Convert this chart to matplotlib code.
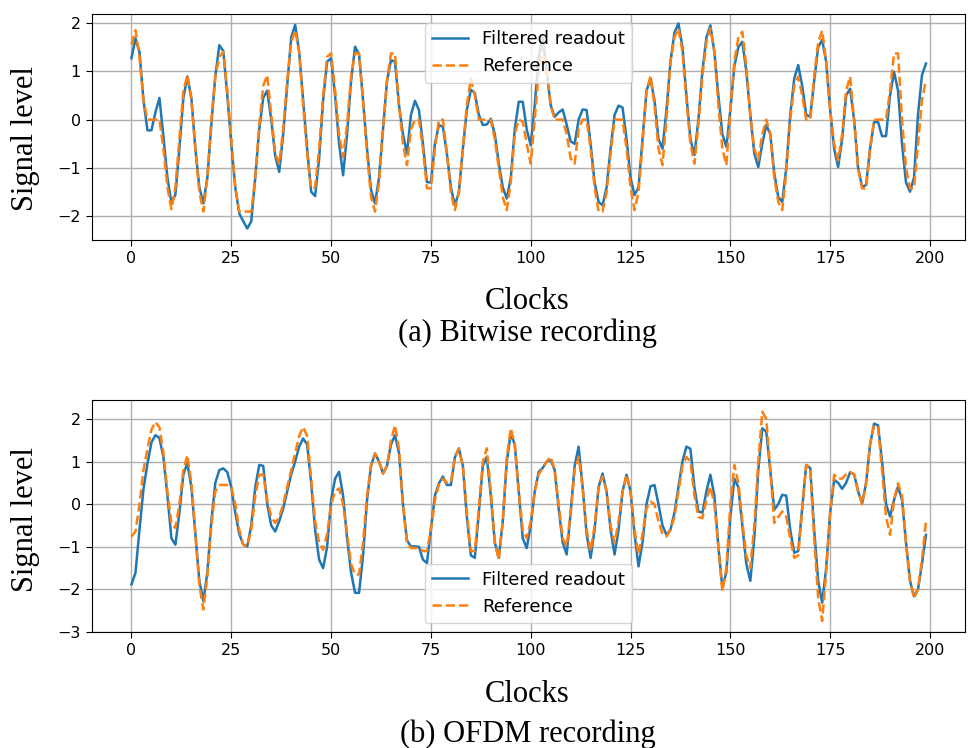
import matplotlib
matplotlib.use('Agg')
import matplotlib.pyplot as plt
import numpy as np

clocks = np.arange(200)

# (a) bitwise recording
bit_readout = [
    1.27, 1.68, 1.40, 0.40, -0.22, -0.22, 0.15, 0.45, -0.35, -1.20,
    -1.72, -1.55, -0.60, 0.45, 0.89, 0.45, -0.60, -1.40, -1.73, -1.20,
    -0.10, 0.90, 1.54, 1.42, 0.50, -0.50, -1.40, -1.94, -2.10, -2.25,
    -2.10, -1.20, -0.20, 0.45, 0.60, 0.00, -0.75, -1.08, -0.30, 0.70,
    1.70, 1.96, 1.40, 0.40, -0.60, -1.49, -1.58, -0.80, 0.40, 1.20,
    1.27, 0.50, -0.50, -1.15, -0.30, 0.80, 1.51, 1.35, 0.40, -0.60,
    -1.45, -1.73, -1.20, -0.20, 0.80, 1.23, 1.20, 0.30, -0.30, -0.70,
    0.10, 0.39, 0.20, -0.50, -1.29, -1.30, -0.50, -0.11, -0.15, -0.70,
    -1.40, -1.77, -1.50, -0.60, 0.20, 0.62, 0.55, 0.10, -0.11, -0.10,
    0.02, -0.30, -0.90, -1.40, -1.63, -1.20, -0.20, 0.37, 0.37, -0.20,
    -0.53, 0.30, 1.30, 1.70, 1.00, 0.30, 0.06, 0.15, 0.21, -0.10,
    -0.45, -0.50, 0.00, 0.21, 0.20, -0.50, -1.30, -1.70, -1.77, -1.40,
    -0.60, 0.10, 0.29, 0.25, -0.40, -1.20, -1.56, -1.40, -0.40, 0.60,
    0.85, 0.40, -0.40, -0.60, 0.20, 1.20, 1.80, 1.99, 1.50, 0.50,
    -0.40, -0.73, 0.00, 1.00, 1.70, 1.95, 1.40, 0.50, -0.30, -0.56,
    0.20, 1.10, 1.50, 1.61, 1.00, 0.10, -0.70, -0.98, -0.50, -0.11,
    -0.30, -1.10, -1.60, -1.70, -1.00, 0.10, 0.85, 1.13, 0.70, 0.10,
    0.06, 0.80, 1.50, 1.65, 1.20, 0.20, -0.60, -0.98, -0.40, 0.50,
    0.64, 0.00, -1.00, -1.39, -1.35, -0.60, -0.05, -0.05, -0.34, -0.34,
    0.50, 0.99, 0.60, -0.50, -1.30, -1.49, -1.20, 0.10, 0.92, 1.16,
]
bit_reference = [
    1.55, 1.85, 1.30, 0.40, 0.00, 0.00, 0.00, 0.00, -0.60, -1.40,
    -1.85, -1.40, -0.40, 0.60, 0.92, 0.40, -0.60, -1.50, -1.90, -1.20,
    0.00, 0.90, 1.30, 1.40, 0.60, -0.40, -1.40, -1.90, -1.90, -1.90,
    -1.90, -1.20, -0.10, 0.70, 0.92, 0.10, -0.70, -0.91, -0.20, 0.80,
    1.60, 1.85, 1.40, 0.30, -0.70, -1.42, -1.40, -0.60, 0.50, 1.30,
    1.37, 0.60, -0.30, -0.77, -0.10, 0.90, 1.37, 1.37, 0.40, -0.70,
    -1.60, -1.90, -1.30, -0.20, 0.80, 1.37, 1.37, 0.30, -0.50, -0.94,
    -0.20, 0.00, 0.00, -0.60, -1.42, -1.42, -0.60, 0.00, 0.00, -0.70,
    -1.50, -1.87, -1.50, -0.60, 0.30, 0.85, 0.50, 0.00, 0.00, 0.00,
    0.00, -0.40, -1.00, -1.60, -1.87, -1.30, -0.30, 0.00, -0.04, -0.50,
    -0.91, 0.00, 1.00, 1.50, 1.00, 0.30, 0.00, 0.00, 0.00, -0.30,
    -0.80, -0.91, -0.20, 0.00, 0.00, -0.60, -1.40, -1.90, -1.90, -1.50,
    -0.70, 0.00, 0.00, 0.00, -0.60, -1.40, -1.87, -1.50, -0.50, 0.60,
    0.90, 0.30, -0.60, -0.94, 0.00, 1.20, 1.70, 1.89, 1.40, 0.40,
    -0.50, -0.91, -0.10, 0.90, 1.60, 1.89, 1.40, 0.30, -0.60, -0.94,
    0.20, 1.20, 1.70, 1.82, 1.10, 0.10, -0.60, -0.84, -0.30, 0.00,
    -0.30, -1.20, -1.70, -1.87, -1.10, 0.00, 0.70, 0.89, 0.50, 0.00,
    0.00, 0.90, 1.60, 1.84, 1.20, 0.20, -0.50, -0.84, -0.30, 0.60,
    0.89, 0.00, -1.00, -1.42, -1.42, -0.60, 0.00, 0.00, 0.00, 0.00,
    0.60, 1.37, 1.37, 0.00, -1.00, -1.42, -1.42, -0.50, 0.40, 0.82,
]

# (b) OFDM recording
ofdm_readout = [
    -1.88, -1.61, -0.60, 0.35, 0.95, 1.45, 1.62, 1.55, 1.10, 0.20,
    -0.80, -0.95, -0.20, 0.70, 0.96, 0.40, -0.70, -1.80, -2.27, -1.60,
    -0.40, 0.50, 0.80, 0.84, 0.75, 0.40, -0.20, -0.70, -0.95, -0.99,
    -0.50, 0.40, 0.92, 0.90, 0.00, -0.50, -0.64, -0.40, -0.10, 0.30,
    0.70, 1.00, 1.35, 1.54, 1.40, 0.50, -0.60, -1.30, -1.50, -1.00,
    0.10, 0.60, 0.76, 0.20, -0.80, -1.60, -2.08, -2.08, -1.20, 0.10,
    0.90, 1.19, 1.00, 0.72, 0.90, 1.40, 1.62, 1.20, 0.00, -0.85,
    -0.99, -0.99, -1.00, -1.30, -1.38, -0.60, 0.20, 0.49, 0.65, 0.45,
    0.45, 1.10, 1.31, 0.90, -0.30, -1.20, -1.26, -0.20, 0.90, 1.11,
    0.20, -0.90, -1.26, -0.40, 1.00, 1.66, 1.40, 0.30, -0.80, -1.03,
    -0.50, 0.30, 0.76, 0.85, 1.00, 1.04, 0.80, -0.10, -0.90, -1.18,
    -0.20, 0.90, 1.35, 0.40, -0.70, -1.26, -0.60, 0.40, 0.72, 0.30,
    -0.60, -1.18, -0.60, 0.30, 0.69, 0.30, -0.70, -1.46, -0.90, 0.00,
    0.42, 0.45, 0.00, -0.50, -0.72, -0.60, -0.20, 0.40, 1.00, 1.35,
    1.30, 0.40, -0.17, -0.20, 0.30, 0.69, 0.20, -1.00, -1.96, -1.60,
    -0.30, 0.60, 0.40, -0.50, -1.40, -1.80, -0.80, 0.80, 1.78, 1.70,
    0.80, -0.13, 0.00, 0.22, 0.20, -0.60, -1.14, -1.10, -0.10, 0.92,
    0.85, -0.60, -1.80, -2.31, -1.50, -0.20, 0.57, 0.50, 0.36, 0.50,
    0.75, 0.70, 0.30, 0.02, 0.50, 1.40, 1.89, 1.85, 1.00, 0.00,
    -0.29, 0.10, 0.41, 0.10, -0.90, -1.80, -2.16, -2.00, -1.40, -0.72,
]
ofdm_reference = [
    -0.76, -0.64, 0.00, 0.80, 1.30, 1.75, 1.93, 1.80, 1.20, 0.30,
    -0.45, -0.56, 0.00, 0.80, 1.15, 0.50, -0.70, -1.90, -2.47, -1.70,
    -0.50, 0.30, 0.45, 0.45, 0.45, 0.40, 0.00, -0.60, -0.95, -0.99,
    -0.60, 0.20, 0.69, 0.69, 0.10, -0.30, -0.44, -0.30, 0.00, 0.40,
    0.80, 1.20, 1.60, 1.81, 1.60, 0.60, -0.40, -0.90, -1.07, -0.70,
    0.00, 0.30, 0.37, 0.00, -0.70, -1.40, -1.65, -1.65, -0.90, 0.20,
    0.90, 1.19, 1.00, 0.72, 0.90, 1.50, 1.85, 1.30, 0.00, -0.90,
    -1.03, -1.03, -1.03, -1.10, -1.10, -0.60, 0.10, 0.45, 0.60, 0.50,
    0.50, 1.10, 1.30, 0.90, -0.20, -1.10, -1.10, -0.10, 1.00, 1.31,
    0.30, -0.90, -1.30, -0.40, 1.10, 1.78, 1.40, 0.30, -0.60, -0.80,
    -0.40, 0.30, 0.70, 0.85, 1.00, 1.11, 0.80, 0.00, -0.80, -0.99,
    -0.20, 0.80, 1.11, 0.40, -0.60, -1.10, -0.50, 0.40, 0.65, 0.30,
    -0.50, -0.91, -0.40, 0.30, 0.69, 0.30, -0.60, -1.18, -0.70, -0.10,
    0.06, 0.00, -0.40, -0.70, -0.76, -0.60, -0.30, 0.30, 0.90, 1.11,
    1.00, 0.20, -0.30, -0.33, 0.10, 0.41, 0.00, -1.00, -2.04, -1.50,
    0.00, 0.92, 0.50, -0.40, -1.20, -1.50, -0.50, 1.00, 2.17, 2.00,
    0.80, -0.44, -0.30, -0.17, -0.30, -0.80, -1.26, -1.20, -0.10, 0.92,
    0.85, -0.80, -2.20, -2.74, -1.60, -0.20, 0.69, 0.60, 0.60, 0.70,
    0.75, 0.70, 0.30, 0.00, 0.50, 1.40, 1.85, 1.80, 0.80, -0.30,
    -0.72, 0.10, 0.49, 0.20, -0.90, -1.80, -2.20, -2.00, -1.30, -0.40,
]

serif = ['Liberation Serif', 'DejaVu Serif']

fig = plt.figure(figsize=(9.68, 7.48), dpi=100)
ax1 = fig.add_axes([0.095, 0.679, 0.902, 0.302])
ax2 = fig.add_axes([0.095, 0.155, 0.902, 0.310])

panels = [
    (ax1, bit_readout, bit_reference, 'upper center'),
    (ax2, ofdm_readout, ofdm_reference, 'lower center'),
]
for ax, readout, ref, loc in panels:
    ax.plot(clocks, readout, color='tab:blue', lw=1.8, label='Filtered readout')
    ax.plot(clocks, ref, color='tab:orange', lw=1.8, ls='--', label='Reference')
    ax.grid(True, lw=1.0)
    ax.set_xticks([0, 25, 50, 75, 100, 125, 150, 175, 200])
    ax.set_xlim(-9.9, 208.8)
    ax.tick_params(labelsize=11.5, length=4.5)
    ax.legend(loc=loc, fontsize=13)

ax1.set_ylim(-2.49, 2.18)
ax2.set_ylim(-3.0, 2.44)
ax2.set_yticks([-3, -2, -1, 0, 1, 2])

# axis titles and captions in serif, as in the paper figure
fig.text(0.026, 0.815, 'Signal level', rotation=90, ha='center', va='center',
         fontsize=22, family=serif)
fig.text(0.026, 0.305, 'Signal level', rotation=90, ha='center', va='center',
         fontsize=22, family=serif)
fig.text(0.545, 0.597, 'Clocks', ha='center', va='center', fontsize=22, family=serif)
fig.text(0.545, 0.555, '(a) Bitwise recording', ha='center', va='center',
         fontsize=22, family=serif)
fig.text(0.545, 0.072, 'Clocks', ha='center', va='center', fontsize=22, family=serif)
fig.text(0.545, 0.018, '(b) OFDM recording', ha='center', va='center',
         fontsize=22, family=serif)

fig.savefig('out.png', dpi=100)
